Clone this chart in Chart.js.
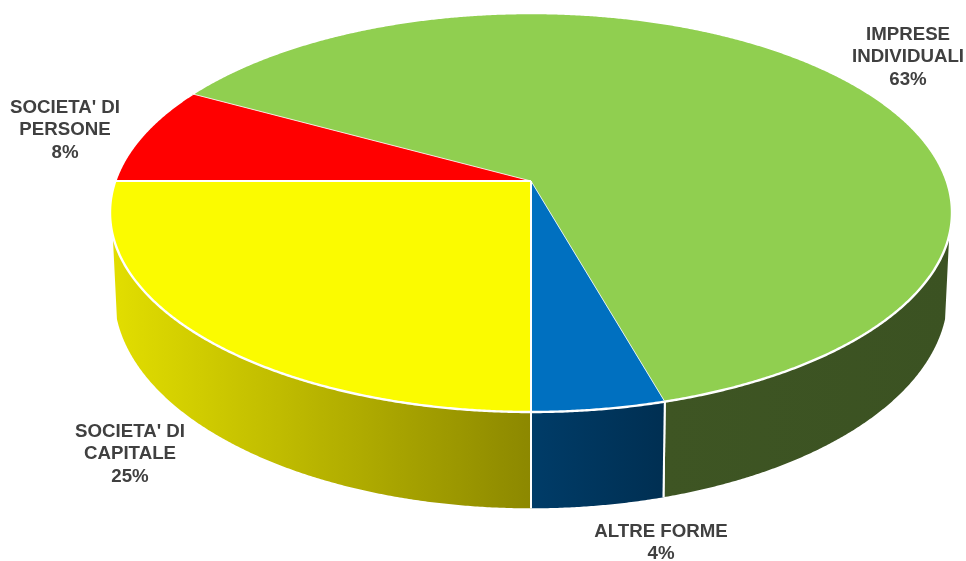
<!DOCTYPE html>
<html>
<head>
<meta charset="utf-8">
<script src="https://cdn.jsdelivr.net/npm/chart.js@4"></script>
<style>
  html, body { margin: 0; padding: 0; background: #fff; overflow: hidden; }
  canvas { display: block; }
</style>
</head>
<body>
<canvas id="chart1" width="966" height="561"></canvas>
<script>
// data
const categories = ['IMPRESE INDIVIDUALI', 'ALTRE FORME', "SOCIETA' DI CAPITALE", "SOCIETA' DI PERSONE"];
const values = [62.6, 4.4, 25, 8];
const labelLines = [['IMPRESE', 'INDIVIDUALI'], ['ALTRE FORME'], ["SOCIETA' DI", 'CAPITALE'], ["SOCIETA' DI", 'PERSONE']];
const topColors = ['#90CF50', '#0070C0', '#FBFB00', '#FF0000'];
// wall gradients, left to right on screen
const wallColors = [['#3E5523', '#3B5222'], ['#003C68', '#002F52'], ['#E2DE00', '#8C8800'], ['#FF0000', '#FF0000']];
// white line on the radial edge where each slice starts
const edgeWidths = [0.8, 0.8, 2, 2];
const labelPos = [[908, 35], [661, 532], [130, 432], [65, 108]];

// perspective of the disc: circle (u,v) -> screen, v points to the viewer
const view = { cx: 531, a: 415.7, p: -0.158, topY: 181, topB: 165.9, botY: 261, botB: 167, botScale: 0.99, wallFrom: 15.5 };

function project(angle, bottom) {
  const u = Math.cos(angle), v = Math.sin(angle);
  const w = 1 + view.p * v;
  const s = bottom ? view.botScale : 1;
  return {
    x: view.cx + s * view.a * u / w,
    y: ((bottom ? view.botY : view.topY) + (bottom ? view.botB : view.topB) * v) / w
  };
}

function trace(ctx, from, to, bottom) {
  const n = Math.max(2, Math.ceil(Math.abs(to - from) / 0.005));
  for (let i = 0; i <= n; i++) {
    const p = project(from + (to - from) * i / n, bottom);
    ctx.lineTo(p.x, p.y);
  }
}

const pie3d = {
  id: 'pie3d',
  beforeDatasetsDraw(chart) {
    const ctx = chart.ctx;
    const arcs = chart.getDatasetMeta(0).data;
    const two = Math.PI * 2;
    const lo = view.wallFrom * Math.PI / 180, hi = Math.PI - lo;

    // side wall, only the part facing the viewer
    arcs.forEach((arc, i) => {
      // green runs past 360 degrees, so look at the front range one turn on as well
      [0, two].forEach(turn => {
        const start = Math.max(arc.startAngle, lo + turn);
        const end = Math.min(arc.endAngle, hi + turn);
        if (end <= start) return;
        const xa = project(start).x, xb = project(end).x;
        const g = ctx.createLinearGradient(Math.min(xa, xb), 0, Math.max(xa, xb), 0);
        g.addColorStop(0, wallColors[i][0]);
        g.addColorStop(1, wallColors[i][1]);
        ctx.beginPath();
        trace(ctx, start, end, false);
        trace(ctx, end, start, true);
        ctx.closePath();
        ctx.fillStyle = g;
        ctx.fill();
        ctx.strokeStyle = '#fff';
        ctx.lineWidth = 2;
        [start, end].forEach(a => {
          if (a === lo + turn || a === hi + turn) return;
          const p1 = project(a), p2 = project(a, true);
          ctx.beginPath();
          ctx.moveTo(p1.x, p1.y);
          ctx.lineTo(p2.x, p2.y);
          ctx.stroke();
        });
      });
    });

    // top of the disc
    const c = { x: view.cx, y: view.topY };
    arcs.forEach((arc, i) => {
      ctx.beginPath();
      ctx.moveTo(c.x, c.y);
      trace(ctx, arc.startAngle, arc.endAngle, false);
      ctx.closePath();
      ctx.fillStyle = topColors[i];
      ctx.fill();
    });
    ctx.strokeStyle = '#fff';
    ctx.lineJoin = 'round';
    arcs.forEach((arc, i) => {
      ctx.beginPath();
      trace(ctx, arc.startAngle, arc.endAngle, false);
      ctx.lineWidth = 2.4;
      ctx.stroke();
      const p = project(arc.startAngle);
      ctx.beginPath();
      ctx.moveTo(c.x, c.y);
      ctx.lineTo(p.x, p.y);
      ctx.lineWidth = edgeWidths[i];
      ctx.stroke();
    });
    return false; // slices already drawn above
  },
  afterDraw(chart) {
    const ctx = chart.ctx;
    const total = values.reduce((a, b) => a + b, 0);
    ctx.font = 'bold 18.7px "Liberation Sans", Arial, sans-serif';
    ctx.fillStyle = '#404040';
    ctx.textAlign = 'center';
    ctx.textBaseline = 'middle';
    labelLines.forEach((lines, i) => {
      const all = lines.concat(Math.round(values[i] / total * 100) + '%');
      all.forEach((t, k) => ctx.fillText(t, labelPos[i][0], labelPos[i][1] + k * 22.2));
    });
  }
};

const ctx = document.getElementById('chart1').getContext('2d');
const chart = new Chart(ctx, {
  type: 'pie',
  data: {
    labels: categories,
    datasets: [{ data: values, backgroundColor: topColors }]
  },
  options: {
    responsive: false,
    animation: false,
    rotation: -61.2,
    plugins: { legend: { display: false }, tooltip: { enabled: false } }
  },
  plugins: [pie3d]
});
</script>
</body>
</html>
